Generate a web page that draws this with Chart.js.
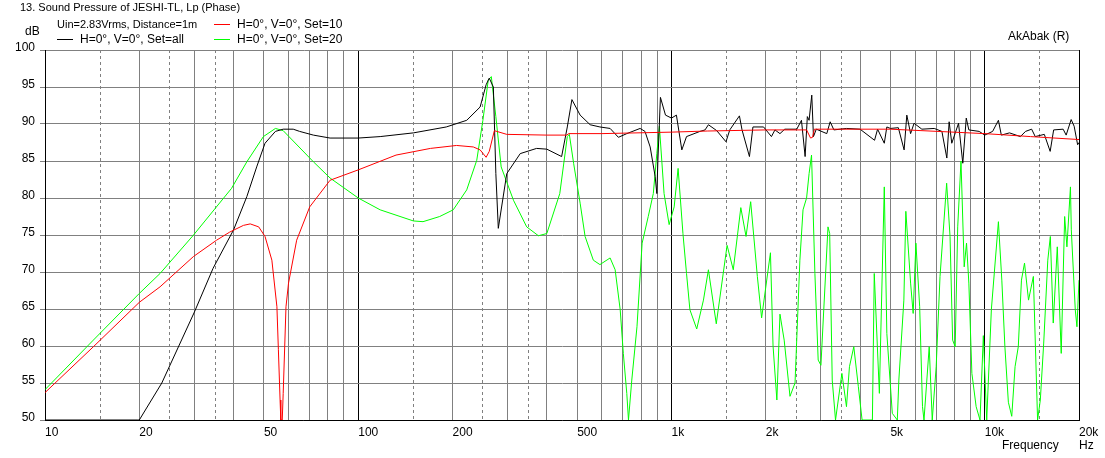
<!DOCTYPE html>
<html>
<head>
<meta charset="utf-8">
<title>Sound Pressure of JESHI-TL</title>
<script src="https://cdn.jsdelivr.net/npm/chart.js@4.4.1/dist/chart.umd.min.js"></script>
<style>
  html, body { margin: 0; padding: 0; background: #ffffff; }
</style>
</head>
<body>
<canvas id="graficoSpl" width="1105" height="458"></canvas>
<script>
// Set=all (black curve)
const setAllHz = [10, 19.8, 20, 23.6, 30, 34.4, 40, 44.1, 47.4, 50.4, 54.4, 57.6, 62, 65, 71.9, 81.3, 100, 117.5, 150, 191, 222, 245, 256, 262, 270, 275, 280, 298, 329, 371, 400, 446, 465, 481, 511, 550, 591, 637, 677, 720, 794, 823, 855, 887, 898, 905, 922, 957, 1000, 1037, 1079, 1117, 1233, 1280, 1312, 1395, 1493, 1535, 1648, 1680, 1774, 1820, 1968, 2085, 2140, 2220, 2300, 2512, 2600, 2671, 2715, 2750, 2805, 2840, 2900, 3132, 3211, 3300, 3620, 4000, 4450, 4550, 4780, 4870, 5000, 5300, 5530, 5640, 5800, 5950, 6300, 6900, 7300, 7570, 7700, 7850, 8250, 8512, 8732, 8900, 9600, 10000, 10600, 11060, 11300, 12000, 13000, 13500, 14120, 14500, 15500, 16180, 16600, 17800, 18200, 18880, 19300, 19800, 20000];
const setAllDb = [50, 50, 50, 55, 64.6, 70.5, 75.7, 80.2, 84.2, 87.4, 89.0, 89.3, 89.3, 89.0, 88.5, 88.1, 88.1, 88.3, 88.8, 89.6, 90.5, 92.3, 95.3, 96.2, 95.0, 83.3, 75.9, 83.3, 86.0, 86.7, 86.6, 85.6, 89.6, 93.3, 91.2, 89.9, 89.6, 89.4, 88.2, 88.7, 89.4, 89.0, 86.9, 82.9, 80.6, 85.1, 93.6, 91.2, 90.8, 91.2, 86.5, 88.3, 89.0, 89.2, 89.9, 89.1, 87.6, 89.2, 91.1, 89.2, 85.6, 89.6, 89.6, 88.3, 89.2, 88.7, 89.3, 89.3, 90.5, 85.6, 91.0, 90.5, 93.9, 88.3, 89.3, 88.7, 90.3, 89.2, 89.4, 89.3, 87.8, 89.3, 87.4, 89.6, 89.4, 89.5, 86.5, 91.2, 88.7, 90.1, 89.3, 89.4, 89.0, 85.4, 90.3, 87.4, 90.1, 84.7, 90.8, 89.2, 89.0, 88.5, 89.0, 90.5, 88.5, 88.8, 88.3, 89.0, 89.3, 88.3, 88.6, 86.3, 89.2, 89.3, 88.5, 90.6, 89.7, 87.2, 87.5];

// Set=10 (red curve)
const set10Hz = [10, 14.27, 20, 23.3, 29.8, 35.3, 38.9, 43, 45.2, 48.1, 50.4, 53, 55, 55.6, 56.3, 56.6, 57.2, 57.6, 58.8, 59.9, 63.6, 70, 81.3, 100, 132, 170, 206, 233, 245, 256, 262, 272, 298, 400, 463, 470, 600, 1000, 1300, 2000, 2700, 2780, 2820, 2860, 5000, 10000, 14000, 20000];
const set10Db = [53.7, 59.9, 65.9, 68.0, 72.1, 74.3, 75.4, 76.3, 76.5, 76.1, 74.8, 71.6, 65.3, 59.5, 52.7, 50, 50, 53.6, 65.3, 68.5, 74.3, 78.8, 82.4, 83.8, 85.8, 86.7, 87.1, 86.9, 86.5, 85.5, 86.3, 89.1, 88.6, 88.5, 88.5, 88.7, 88.7, 88.9, 89.05, 89.2, 89.2, 88.1, 88.2, 89.3, 89.3, 88.7, 88.3, 87.9];

// Set=20 (green curve)
const set20Hz = [10, 14.27, 20, 23.3, 29.8, 39.4, 44.1, 49.8, 54.4, 57.6, 71.9, 81.3, 100, 117.5, 150, 161, 182, 201, 222, 239, 250, 260, 266, 275, 286, 313, 345, 376, 400, 440, 465, 472, 487, 511, 530, 563, 591, 637, 661, 686, 702, 720, 729, 747, 776, 806, 843, 875, 898, 915, 947, 983, 1020, 1050, 1088, 1117, 1145, 1204, 1265, 1312, 1390, 1505, 1575, 1665, 1730, 1790, 1880, 1940, 2070, 2110, 2170, 2220, 2290, 2390, 2480, 2570, 2630, 2700, 2750, 2800, 2870, 2940, 3000, 3160, 3200, 3260, 3340, 3500, 3620, 3700, 3820, 3950, 4060, 4380, 4440, 4610, 4780, 4870, 5070, 5260, 5320, 5520, 5600, 5800, 5910, 6030, 6200, 6330, 6400, 6650, 6800, 7000, 7200, 7560, 7750, 7900, 8050, 8200, 8400, 8600, 8750, 8900, 9100, 9390, 9660, 9900, 10150, 10500, 11060, 11340, 11600, 11900, 12200, 12500, 12800, 13100, 13400, 13800, 14300, 14750, 15050, 15430, 15900, 16200, 16550, 17050, 17550, 18000, 18300, 18780, 18900, 19460, 19700, 20000];
const set20Db = [54.1, 60.8, 67.1, 69.8, 75.0, 81.3, 84.9, 88.3, 89.4, 89.1, 84.9, 82.7, 80.0, 78.4, 76.9, 76.8, 77.5, 78.4, 81.1, 85.1, 90.5, 95.9, 96.4, 91.0, 84.2, 79.7, 76.1, 74.9, 75.2, 80.6, 88.3, 88.6, 84.7, 79.3, 74.8, 71.6, 71.0, 71.9, 70.3, 64.9, 59.0, 53.6, 50, 55.4, 62.6, 73.9, 77.5, 80.6, 86.0, 89.7, 80.6, 76.4, 78.8, 84.0, 75.2, 69.8, 64.9, 62.3, 66.2, 70.3, 63.0, 73.6, 70.3, 78.7, 74.8, 79.5, 69.4, 63.8, 72.6, 60, 52.7, 64.3, 60.8, 53.2, 55.0, 71.6, 78.4, 80, 83.3, 85.8, 69.8, 58.1, 57.4, 76.1, 75.2, 55.4, 50, 56.3, 51.8, 57.2, 59.9, 54.5, 50, 50, 69.8, 53.6, 81.5, 61.7, 50.9, 50, 55.4, 66.2, 78.2, 68.5, 64.4, 73.9, 65.3, 51.8, 50, 59.9, 50, 57.2, 69.4, 82.0, 74.8, 60.8, 59.9, 76.1, 85, 70.7, 73.9, 68.5, 56.3, 51.8, 50, 61.4, 50, 64.9, 76.8, 68.9, 59.9, 52.4, 50.5, 57.2, 59.9, 68.9, 71.2, 66.2, 69.4, 50, 52.7, 60.4, 71.6, 74.8, 63.1, 73.4, 59.0, 77.5, 73.4, 81.5, 75.7, 64.9, 62.6, 68.9];

// Frequency grid lines and their labels
const gradeHz = [10, 15, 20, 25, 30, 35, 40, 50, 60, 70, 80, 90,
  100, 150, 200, 250, 300, 350, 400, 500, 600, 700, 800, 900,
  1000, 1500, 2000, 2500, 3000, 3500, 4000, 5000, 6000, 7000, 8000, 9000,
  10000, 15000, 20000];
const rotulosHz = { 10: '10', 20: '20', 50: '50', 100: '100', 200: '200', 500: '500', 1000: '1k', 2000: '2k', 5000: '5k', 10000: '10k', 20000: '20k' };
const decadasHz = [10, 100, 1000, 10000, 20000]; // black lines
const tracejadasHz = [15, 25, 35, 150, 250, 350, 1500, 2500, 3500, 15000]; // dashed lines

const FAMILIA = "'Liberation Sans', Arial, sans-serif";
const CINZA = '#808080';

// Pairs frequency with level for the library
function montarPontos(hz, db) {
  return hz.map((f, i) => ({ x: f, y: db[i] }));
}

// Header texts and legend, drawn over the canvas
const textoCabecalho = {
  id: 'textoCabecalho',
  afterDraw(chart) {
    const ctx = chart.ctx;
    const ds = chart.data.datasets;
    ctx.save();
    ctx.fillStyle = '#000';
    ctx.textBaseline = 'middle';
    ctx.textAlign = 'left';
    ctx.font = '11px ' + FAMILIA;
    ctx.fillText('13. Sound Pressure of JESHI-TL, Lp (Phase)', 20, 8);
    ctx.fillText('Uin=2.83Vrms, Distance=1m', 57, 25);
    ctx.font = '12px ' + FAMILIA;
    ctx.fillText('dB', 25, 32);
    ctx.fillText('AkAbak (R)', 1008, 37);
    ctx.fillText('Frequency', 1002, 446);
    ctx.fillText('Hz', 1079, 446);

    // legend entries: [dataset, x of line, y]
    const itens = [[ds[1], 57, 39], [ds[0], 214, 24], [ds[2], 214, 39]];
    itens.forEach(([d, x, y]) => {
      ctx.strokeStyle = d.borderColor;
      ctx.lineWidth = 1;
      ctx.beginPath();
      ctx.moveTo(x, y + 0.5);
      ctx.lineTo(x + 16, y + 0.5);
      ctx.stroke();
      ctx.fillStyle = '#000';
      ctx.fillText(d.label, x + 23, y + 1);
    });
    ctx.restore();
  }
};

function criarGrafico(ctx) {
  return new Chart(ctx, {
    type: 'line',
    data: {
      datasets: [{
        label: 'H=0°, V=0°, Set=10',
        data: montarPontos(set10Hz, set10Db),
        borderColor: '#ff0000',
        borderWidth: 1,
        pointRadius: 0,
        tension: 0
      }, {
        label: 'H=0°, V=0°, Set=all',
        data: montarPontos(setAllHz, setAllDb),
        borderColor: '#000000',
        borderWidth: 1,
        pointRadius: 0,
        tension: 0
      }, {
        label: 'H=0°, V=0°, Set=20',
        data: montarPontos(set20Hz, set20Db),
        borderColor: '#00ff00',
        borderWidth: 1,
        pointRadius: 0,
        tension: 0
      }]
    },
    options: {
      responsive: false,
      animation: false,
      layout: { padding: { left: 0, right: 26, top: 50, bottom: 0 } },
      plugins: {
        legend: { display: false },
        title: { display: false },
        tooltip: { enabled: false }
      },
      scales: {
        x: {
          type: 'logarithmic',
          min: 10,
          max: 20000,
          afterBuildTicks: (scale) => { scale.ticks = gradeHz.map(v => ({ value: v })); },
          afterFit: (scale) => { scale.height = 38; },
          ticks: {
            autoSkip: false,
            maxRotation: 0,
            align: 'start',
            padding: 5,
            color: '#000',
            font: { family: FAMILIA, size: 12 },
            callback: (v) => rotulosHz[v] || ''
          },
          grid: {
            drawTicks: false,
            color: (c) => (c.tick && decadasHz.includes(c.tick.value)) ? '#000' : CINZA
          },
          border: {
            color: '#000',
            dash: (c) => (c.tick && tracejadasHz.includes(c.tick.value)) ? [3, 3] : []
          }
        },
        y: {
          min: 50,
          max: 100,
          afterFit: (scale) => { scale.width = 45; },
          ticks: {
            stepSize: 5,
            padding: 5,
            labelOffset: -2,
            color: '#000',
            font: { family: FAMILIA, size: 12 }
          },
          grid: {
            color: CINZA,
            tickLength: 5,
            tickColor: CINZA
          },
          border: { color: '#000' }
        }
      }
    },
    plugins: [textoCabecalho]
  });
}

criarGrafico(document.getElementById('graficoSpl').getContext('2d'));
</script>
</body>
</html>
